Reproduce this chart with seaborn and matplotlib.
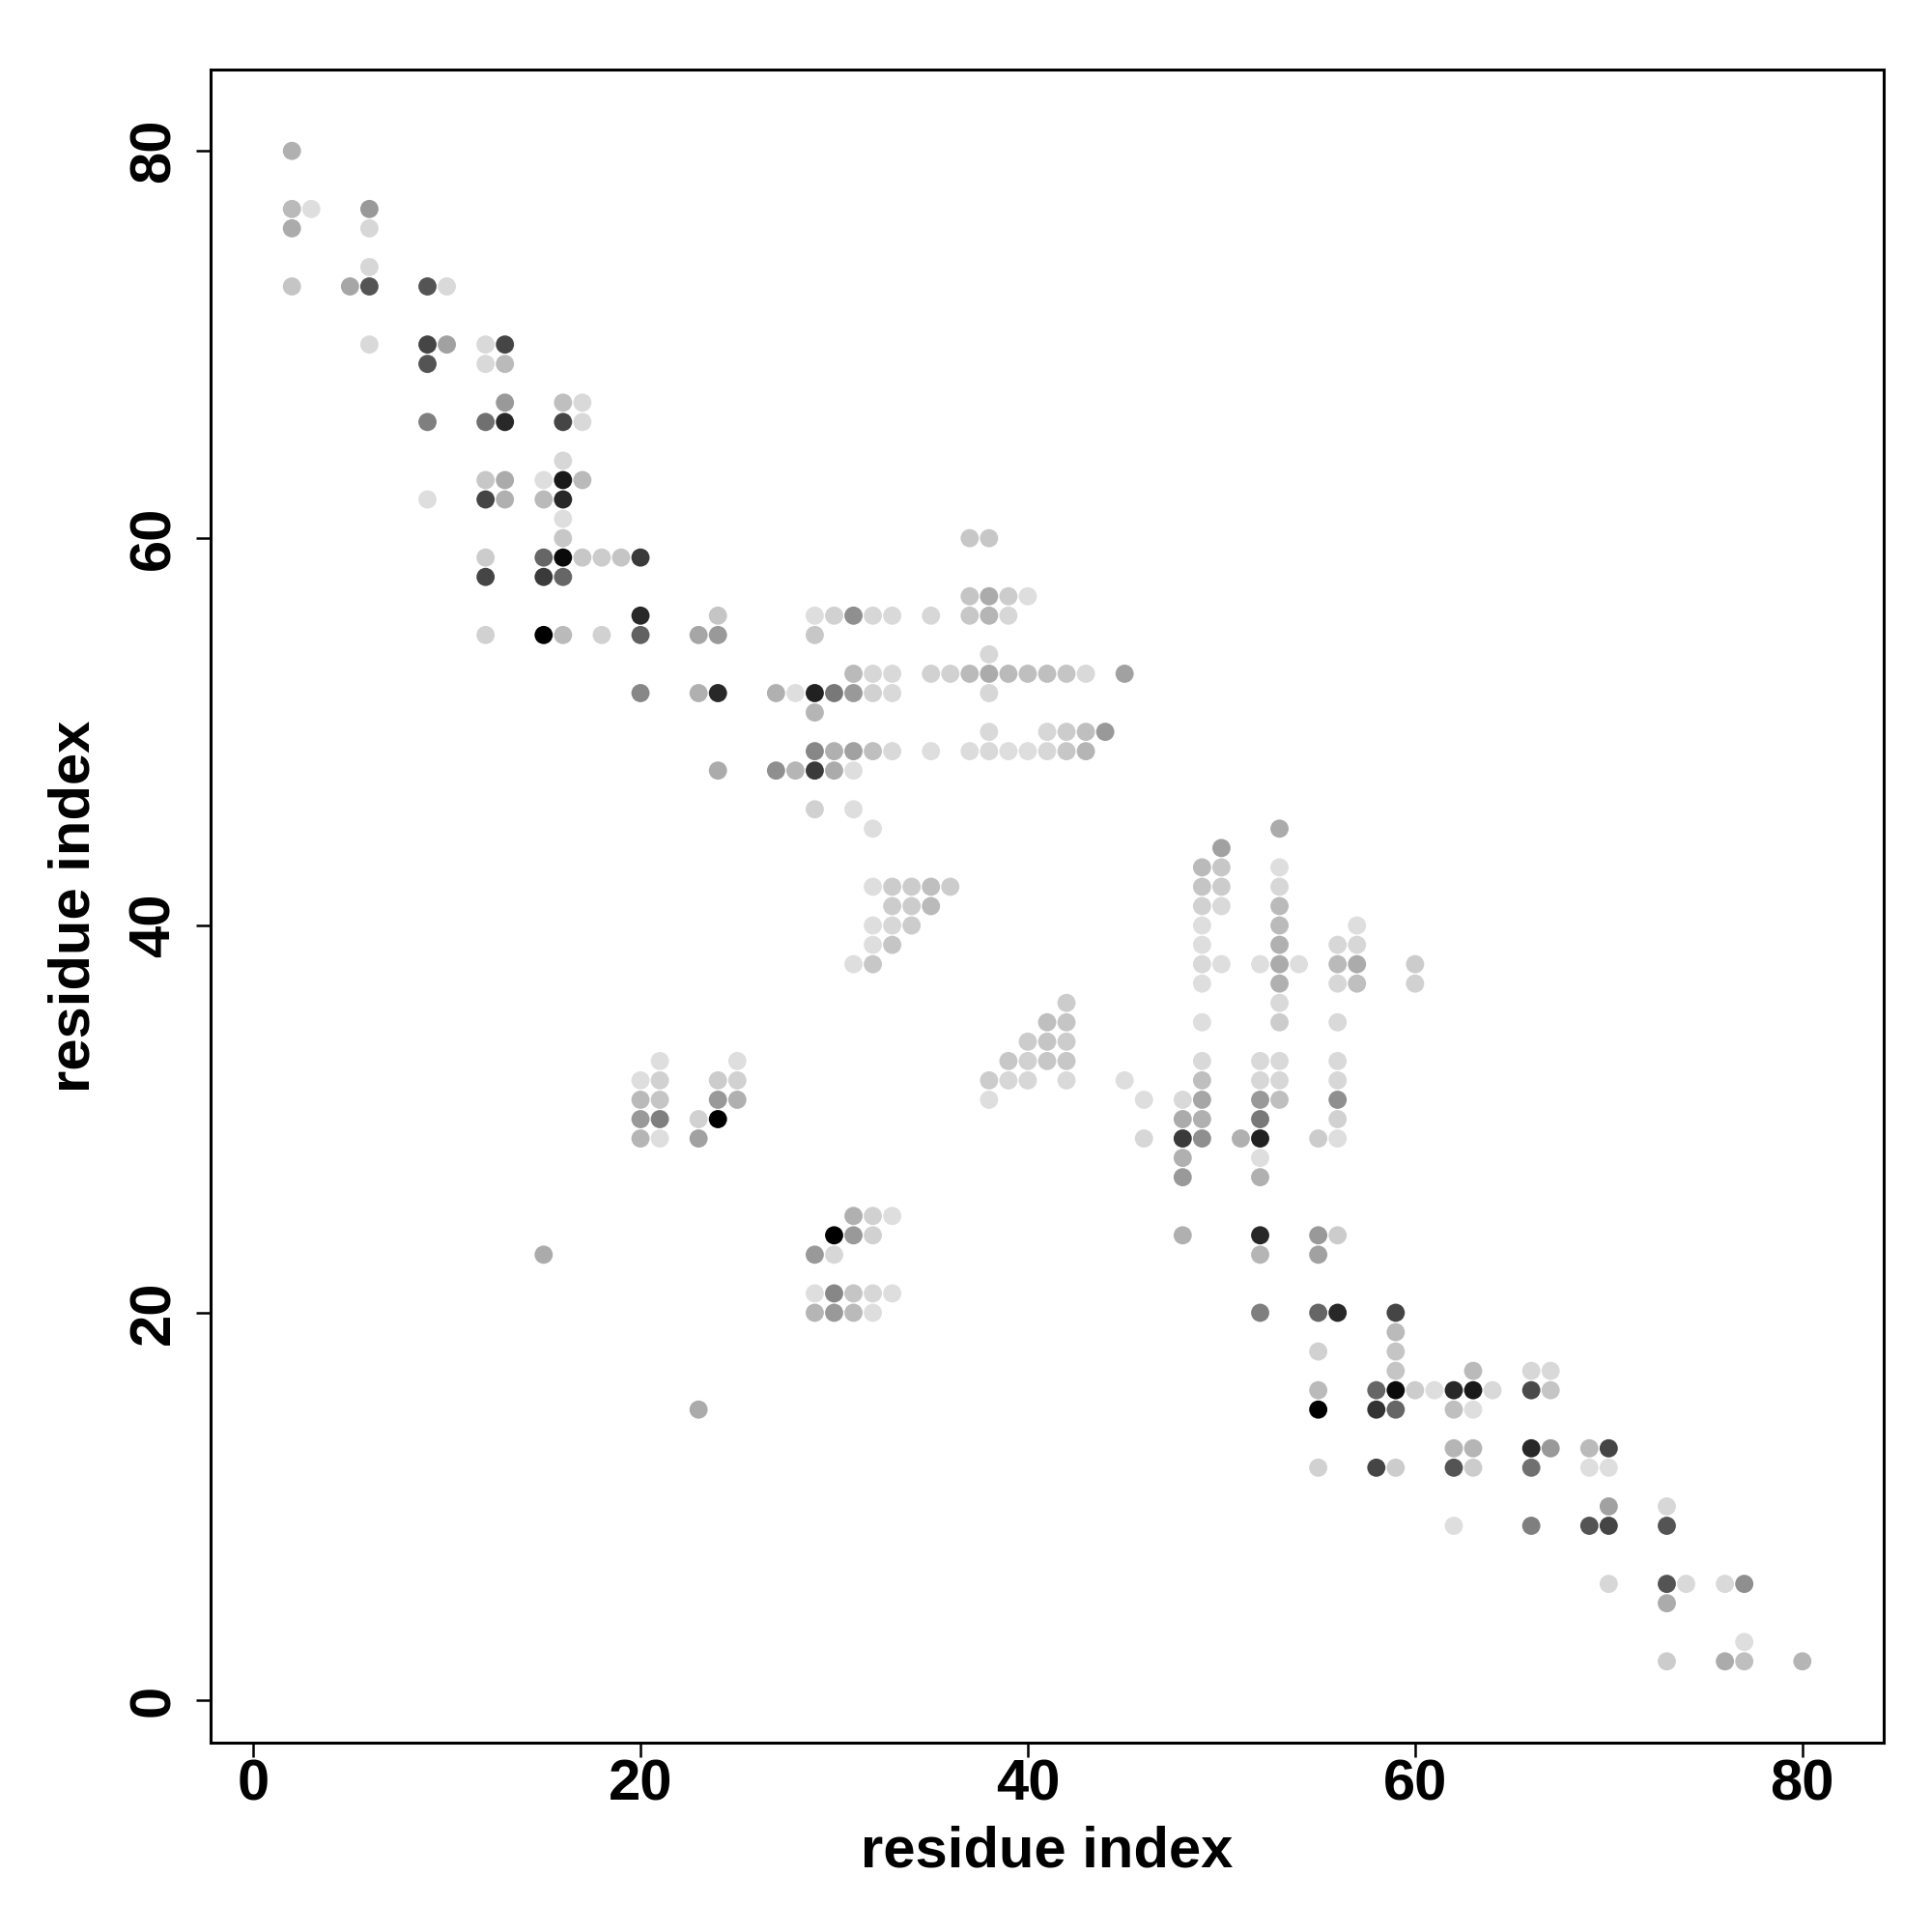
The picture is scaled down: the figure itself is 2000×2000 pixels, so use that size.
import matplotlib
matplotlib.use("Agg")
import matplotlib.pyplot as plt
import numpy as np
import pandas as pd
import seaborn as sns

# ---- data: residue contacts (x index, y index, contact strength 0..1) ----
contact_x = [
    2, 2, 3, 2, 6, 6, 6, 2, 5, 6,
    9, 10, 6, 9, 10, 9, 12, 13, 12, 13,
    13, 9, 12, 13, 16, 17, 16, 17, 16, 15,
    16, 17, 12, 13, 9, 12, 13, 15, 16, 16,
    16, 12, 15, 16, 17, 18, 19, 20, 12, 15,
    16, 20, 12, 15, 16, 18, 20, 20, 23, 23,
    24, 24, 24, 24, 27, 28, 29, 30, 31, 32,
    33, 29, 31, 32, 33, 35, 36, 37, 29, 30,
    31, 32, 33, 35, 37, 37, 29, 29, 30, 31,
    32, 33, 35, 37, 27, 28, 29, 30, 31, 29,
    31, 32, 37, 38, 38, 39, 40, 38, 39, 38,
    38, 38, 39, 40, 41, 42, 43, 45, 38, 41,
    42, 43, 44, 38, 39, 40, 41, 42, 43, 32,
    33, 34, 35, 36, 33, 34, 35, 32, 33, 34,
    32, 33, 31, 32, 21, 25, 20, 21, 24, 25,
    20, 21, 24, 25, 20, 21, 23, 24, 20, 21,
    23, 15,
    31, 32, 33, 30, 31, 32, 29, 30, 29, 30,
    31, 32, 33, 29, 30, 31, 32, 23, 42, 41,
    42, 40, 41, 42, 39, 40, 41, 42, 38, 39,
    40, 42, 38, 45, 46, 46, 53, 50, 49, 50,
    49, 50, 49, 50, 49, 49, 49, 50, 49, 49,
    52, 53, 54, 53, 53, 53, 53, 53, 53, 53,
    53, 56, 57, 57, 56, 57, 56, 57, 56, 60,
    60, 49, 52, 53, 56, 49, 52, 53, 56, 48,
    49, 52, 53, 56, 48, 49, 52, 56, 48, 49,
    51, 52, 55, 56, 48, 52, 48, 52, 48, 52,
    55, 56, 52, 55, 52, 55, 56, 59, 59, 59,
    59, 55, 63, 66, 67, 55, 58, 59, 60, 61,
    62, 63, 64, 66, 67, 55, 58, 59, 62, 63,
    62, 63, 66, 67, 69, 70, 55, 58, 59, 62,
    63, 66, 69, 70, 70, 73, 62, 66, 69, 70,
    73, 70, 73, 74, 76, 77, 73, 77, 73, 76,
    77, 80,
]
contact_y = [
    80, 77, 77, 76, 77, 76, 74, 73, 73, 73,
    73, 73, 70, 70, 70, 69, 70, 70, 69, 69,
    67, 66, 66, 66, 67, 67, 66, 66, 64, 63,
    63, 63, 63, 63, 62, 62, 62, 62, 62, 61,
    60, 59, 59, 59, 59, 59, 59, 59, 58, 58,
    58, 56, 55, 55, 55, 55, 55, 52, 55, 52,
    56, 55, 52, 48, 52, 52, 52, 52, 52, 52,
    52, 51, 53, 53, 53, 53, 53, 53, 56, 56,
    56, 56, 56, 56, 56, 57, 55, 49, 49, 49,
    49, 49, 49, 49, 48, 48, 48, 48, 48, 46,
    46, 45, 60, 60, 57, 57, 57, 56, 56, 54,
    52, 53, 53, 53, 53, 53, 53, 53, 50, 50,
    50, 50, 50, 49, 49, 49, 49, 49, 49, 42,
    42, 42, 42, 42, 41, 41, 41, 40, 40, 40,
    39, 39, 38, 38, 33, 33, 32, 32, 32, 32,
    31, 31, 31, 31, 30, 30, 30, 30, 29, 29,
    29, 23,
    25, 25, 25, 24, 24, 24, 23, 23, 21, 21,
    21, 21, 21, 20, 20, 20, 20, 15, 36, 35,
    35, 34, 34, 34, 33, 33, 33, 33, 32, 32,
    32, 32, 31, 32, 31, 29, 45, 44, 43, 43,
    42, 42, 41, 41, 40, 39, 38, 38, 37, 35,
    38, 38, 38, 43, 42, 41, 40, 39, 37, 36,
    35, 39, 40, 39, 38, 38, 37, 37, 35, 38,
    37, 33, 33, 33, 33, 32, 32, 32, 32, 31,
    31, 31, 31, 31, 30, 30, 30, 30, 29, 29,
    29, 29, 29, 29, 28, 28, 27, 27, 24, 24,
    24, 24, 23, 23, 20, 20, 20, 20, 19, 18,
    17, 18, 17, 17, 17, 16, 16, 16, 16, 16,
    16, 16, 16, 16, 16, 15, 15, 15, 15, 15,
    13, 13, 13, 13, 13, 13, 12, 12, 12, 12,
    12, 12, 12, 12, 10, 10, 9, 9, 9, 9,
    9, 6, 6, 6, 6, 6, 5, 3, 2, 2,
    2, 2,
]
contact_strength = [
    .31, .27, .13, .33, .40, .16, .16, .23, .35, .67,
    .67, .15, .15, .73, .37, .67, .15, .73, .15, .27,
    .40, .50, .56, .84, .25, .15, .73, .15, .16, .13,
    .90, .27, .22, .33, .13, .73, .31, .27, .84, .13,
    .22, .20, .60, .96, .22, .20, .23, .77, .73, .77,
    .60, .84, .18, 1.0, .27, .18, .62, .47, .35, .31,
    .23, .40, .84, .33, .31, .13, .87, .53, .40, .18,
    .15, .29, .27, .16, .15, .18, .18, .27, .13, .18,
    .44, .16, .15, .16, .22, .23, .22, .47, .31, .37,
    .25, .15, .13, .14, .44, .29, .77, .33, .13, .18,
    .13, .13, .22, .22, .33, .20, .13, .29, .16, .16,
    .16, .33, .27, .25, .25, .23, .15, .37, .15, .16,
    .20, .25, .40, .15, .13, .13, .16, .22, .29, .13,
    .20, .20, .25, .20, .20, .20, .27, .13, .16, .20,
    .13, .23, .13, .22, .13, .13, .13, .18, .20, .18,
    .27, .23, .40, .31, .40, .50, .18, 1.0, .29, .13,
    .37, .33,
    .31, .18, .13, 1.0, .40, .18, .40, .16, .13, .47,
    .23, .16, .13, .29, .40, .27, .13, .33, .20, .25,
    .23, .20, .23, .20, .22, .18, .22, .22, .20, .16,
    .16, .15, .13, .13, .13, .16, .33, .37, .27, .22,
    .23, .20, .18, .15, .13, .13, .15, .13, .13, .13,
    .13, .33, .13, .13, .16, .27, .27, .31, .31, .15,
    .20, .16, .13, .16, .27, .33, .16, .25, .15, .20,
    .18, .15, .15, .15, .15, .25, .16, .16, .16, .15,
    .35, .40, .25, .44, .33, .31, .53, .18, .77, .44,
    .31, .87, .20, .13, .31, .13, .40, .31, .31, .84,
    .40, .20, .29, .37, .50, .60, .84, .73, .27, .23,
    .23, .18, .27, .16, .15, .27, .60, .96, .20, .13,
    .84, .90, .15, .71, .23, 1.0, .80, .60, .25, .13,
    .29, .29, .84, .40, .27, .73, .18, .73, .20, .67,
    .20, .56, .13, .13, .37, .16, .13, .50, .67, .73,
    .67, .16, .67, .15, .15, .44, .33, .13, .20, .33,
    .25, .29,
]
tick_values = [0, 20, 40, 60, 80]
axis_label = "residue index"

assert len(contact_x) == len(contact_y) == len(contact_strength)

df = pd.DataFrame({"i": contact_x, "j": contact_y, "strength": contact_strength})

sns.set_style("white")
plt.rcParams["font.family"] = ["Liberation Sans", "DejaVu Sans"]
plt.rcParams["font.weight"] = "bold"
plt.rcParams["text.color"] = "black"
plt.rcParams["axes.labelcolor"] = "black"
plt.rcParams["xtick.color"] = "black"
plt.rcParams["ytick.color"] = "black"

fig = plt.figure(figsize=(10, 10), dpi=200)
ax = fig.add_axes([0.109, 0.098, 0.866, 0.866])

sns.scatterplot(data=df, x="i", y="j", hue="strength", palette="gray_r",
                hue_norm=(0, 1), s=46, linewidth=0, legend=False, ax=ax)

ax.set_xlim(-2.2, 84.2)
ax.set_ylim(-2.2, 84.2)
ax.set_xticks(tick_values)
ax.set_yticks(tick_values)
ax.set_xticklabels([str(t) for t in tick_values], fontsize=21.5, fontweight="bold",
                   color="black")
ax.set_yticklabels([str(t) for t in tick_values], fontsize=21.5, fontweight="bold",
                   rotation=90, va="center", ha="right", color="black")
ax.tick_params(axis="both", direction="out", length=5.5, width=0.9, color="black",
               labelcolor="black", bottom=True, left=True, top=False, right=False)
ax.tick_params(axis="x", pad=0.5)
ax.tick_params(axis="y", pad=5.5)
ax.set_xlabel(axis_label, fontsize=21.5, fontweight="bold", labelpad=5, color="black")
ax.set_ylabel(axis_label, fontsize=21.5, fontweight="bold", labelpad=10, color="black")
for sp in ax.spines.values():
    sp.set_visible(True)
    sp.set_color("black")
    sp.set_linewidth(1.1)

fig.savefig("out.png", dpi=200, facecolor="white")
